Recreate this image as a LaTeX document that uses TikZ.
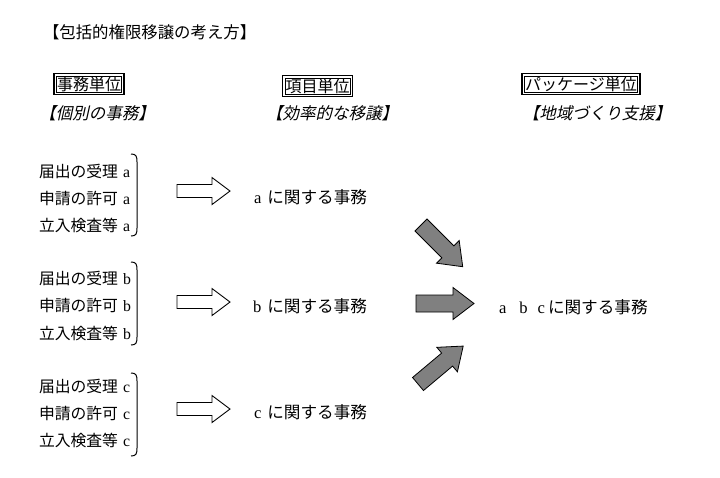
\documentclass[tikz,border=0pt]{standalone}
\usepackage{fontspec}
\setmainfont{Liberation Serif}
\newfontfamily\jp{Noto Sans CJK JP}
\newfontfamily\jpit[FakeSlant=0.22]{Noto Sans CJK JP}
\usetikzlibrary{calc}
\definecolor{arrgray}{RGB}{128,128,128}
\newcommand\lat[1]{{\rmfamily #1}}
% #1 style, #2 tail point, #3 angle, #4 length, #5 head length, #6 shaft half width, #7 head half width
\newcommand\blockarrow[7]{%
  \draw[#1, shift={#2}, rotate=#3] (0,-#6) -- ({#4-#5},-#6) -- ({#4-#5},-#7) -- (#4,0)
     -- ({#4-#5},#7) -- ({#4-#5},#6) -- (0,#6) -- cycle;}
% right bracket: #1 x, #2 top y, #3 bottom y
\newcommand\rbrk[3]{%
  \draw[brk] ({#1-6},{#2}) .. controls ({#1-1},{#2}) and ({#1},{#2+2}) .. ({#1},{#2+8})
     -- ({#1},{#3-8}) .. controls ({#1},{#3-2}) and ({#1-1},{#3}) .. ({#1-6},{#3});}
\tikzset{
  every node/.style={inner sep=0pt, outer sep=0pt},
  ttl/.style={font=\jp\fontsize{16.4}{18}\selectfont, anchor=west},
  item/.style={font=\jp\fontsize{15.8}{18}\selectfont, anchor=west},
  mid/.style={font=\jp\fontsize{16.6}{18}\selectfont, anchor=west},
  unitbox/.style={draw, line width=0.7pt, font=\jp\fontsize{16}{18}\selectfont,
     inner xsep=0.5pt, minimum height=16pt},
  outerframe/.style={line width=1.5pt},
  sub/.style={font=\jpit\fontsize{16.5}{18}\selectfont},
  brk/.style={line width=1pt},
  hollow/.style={draw=black, fill=white, line width=0.9pt, line join=miter},
  solidarrow/.style={draw=black, fill=arrgray, line width=0.8pt, line join=miter},
}
\begin{document}
\begin{tikzpicture}[x=1pt, y=-1pt]
\useasboundingbox[fill=white] (0,0) rectangle (720,477);

% title
\node[ttl] (title) at (43,32) {【包括的権限移譲の考え方】};

% unit boxes
\node[unitbox] (u1) at (89,84) {事務単位};
\node[unitbox] (u2) at (317.5,86) {項目単位};
\node[unitbox] (u3) at (581,84) {パッケージ単位};
\foreach \u in {u1,u2,u3}
  \draw[outerframe] ($(\u.north west)+(-2.5,-2.5)$) rectangle ($(\u.south east)+(2.5,2.5)$);

% subtitles
\node[sub] (s1) at (97,113) {【個別の事務】};
\node[sub] (s2) at (332,113) {【効率的な移譲】};
\node[sub] (s3) at (597,113) {【地域づくり支援】};

% left lists
\node[item] (a1) at (39,171) {届出の受理\hspace{5pt}\lat{a}};
\node[item] (a2) at (39,198) {申請の許可\hspace{5pt}\lat{a}};
\node[item] (a3) at (39,225) {立入検査等\hspace{5pt}\lat{a}};
\node[item] (b1) at (39,278) {届出の受理\hspace{5pt}\lat{b}};
\node[item] (b2) at (39,305) {申請の許可\hspace{5pt}\lat{b}};
\node[item] (b3) at (39,333) {立入検査等\hspace{5pt}\lat{b}};
\node[item] (c1) at (39,386) {届出の受理\hspace{5pt}\lat{c}};
\node[item] (c2) at (39,413) {申請の許可\hspace{5pt}\lat{c}};
\node[item] (c3) at (39,440) {立入検査等\hspace{5pt}\lat{c}};

\rbrk{137}{154}{236}
\rbrk{137}{262}{345}
\rbrk{137}{373}{456}

% hollow arrows
\blockarrow{hollow}{(177,191)}{0}{53}{18}{6.5}{13.5}
\blockarrow{hollow}{(177,302)}{0}{53}{18}{6.5}{13.5}
\blockarrow{hollow}{(177,409)}{0}{53}{18}{6.5}{13.5}

% middle texts
\node[mid] (ra) at (254,197) {\lat{a}\hspace{6pt}に関する事務};
\node[mid] (rb) at (253,306) {\lat{b}\hspace{6pt}に関する事務};
\node[mid] (rc) at (254,412) {\lat{c}\hspace{6pt}に関する事務};

% grey arrows
\blockarrow{solidarrow}{(421,225)}{-45}{59}{21}{8.5}{16}
\blockarrow{solidarrow}{(416,303.5)}{0}{58}{21}{8.5}{16}
\blockarrow{solidarrow}{(418,384)}{40}{59}{21}{8.5}{16}

% result
\node[mid] (rabc) at (499,307) {\lat{a}\hspace{13pt}\lat{b}\hspace{10pt}\lat{c}\hspace{3pt}に関する事務};
\end{tikzpicture}
\end{document}
